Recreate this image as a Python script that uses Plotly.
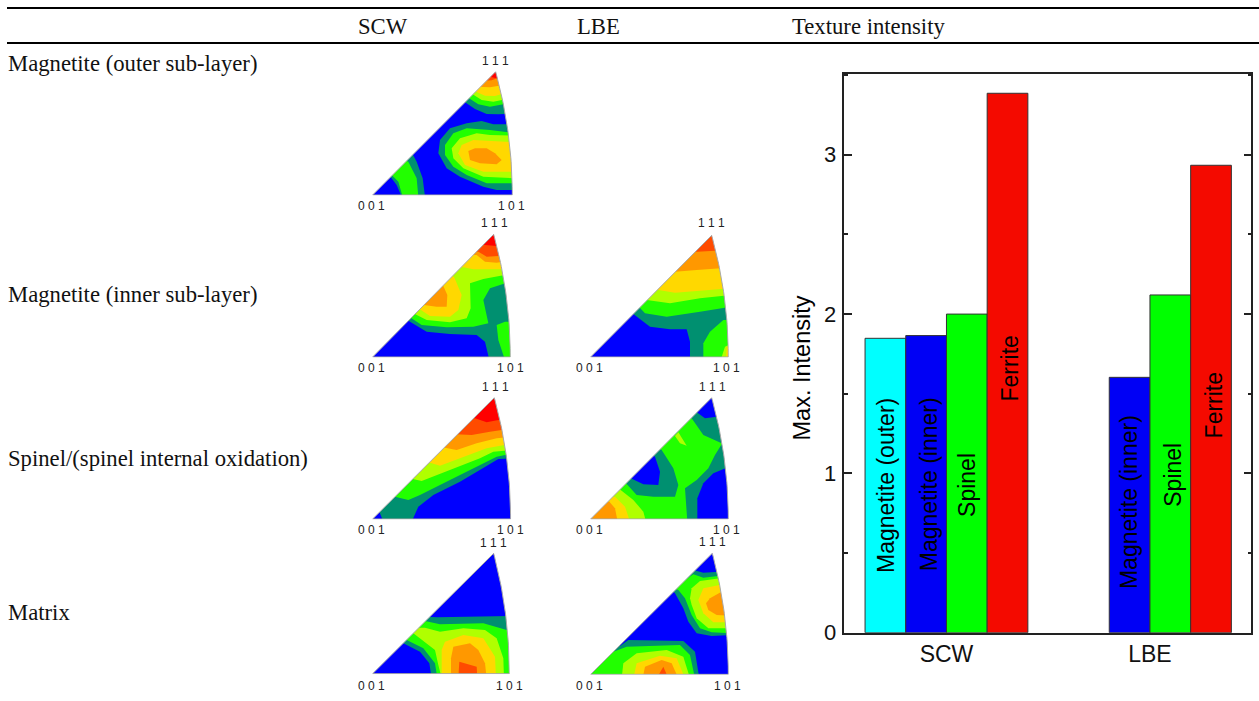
import math
import plotly.graph_objects as go

W, H = 1259, 701

# ---------- table text ----------
HEADERS = ["SCW", "LBE", "Texture intensity"]
ROW_LABELS = ["Magnetite (outer sub-layer)", "Magnetite (inner sub-layer)",
              "Spinel/(spinel internal oxidation)", "Matrix"]

# ---------- bar chart data ----------
ENVIRONMENTS = ["SCW", "LBE"]
PHASES = ["Magnetite (outer)", "Magnetite (inner)", "Spinel", "Ferrite"]
OUTER_VALUES = [1.848, None]
INNER_VALUES = [1.865, 1.603]
SPINEL_VALUES = [2.0, 2.12]
FERRITE_VALUES = [3.386, 2.934]
LABEL_START_SCW = [0.362, 0.374, 0.713, 1.435]
LABEL_START_LBE = [None, 0.259, 0.780, 1.207]

# ---------- inverse pole figures: contour level regions, digitised (level, vertices) ----------
LEVEL_NAMES = ["blue", "teal", "green", "yellowgreen", "yellow", "orange", "redorange", "red"]

SCW_OUTER = [
    (1, [(330,172),(345,172),(375,192),(410,207),(445,208),(500,205),(500,60),(437,60)]),
    (2, [(340,160),(357,160),(385,178),(420,185),(460,178),(500,178),(500,60),(437,60)]),
    (3, [(350,148),(368,148),(395,165),(430,170),(456,165),(500,165),(500,60),(437,60)]),
    (4, [(360,140),(378,140),(405,152),(435,153),(453,148),(500,148),(500,60),(437,60)]),
    (5, [(380,125),(392,125),(420,127),(447,122),(500,122),(500,60),(437,60)]),
    (6, [(395,108),(405,108),(425,106),(442,100),(500,100),(500,60),(437,60)]),
    (7, [(410,95),(420,95),(440,100),(500,100),(500,60),(437,60)]),
    (1, [(500,238),(430,238),(395,228),(350,235),(300,250),(270,285),(265,325),(290,370),(330,395),(400,425),(440,435),(500,435)]),
    (2, [(500,265),(420,255),(350,250),(310,265),(285,300),(285,330),(310,365),(350,390),(410,415),(500,415)]),
    (3, [(500,272),(420,270),(380,265),(330,280),(305,310),(310,340),(340,370),(400,395),(500,400)]),
    (4, [(500,292),(420,288),(370,285),(335,300),(325,325),(345,360),(400,380),(500,380)]),
    (5, [(355,318),(375,310),(410,310),(435,325),(455,345),(440,358),(390,355),(360,345)]),
    (1, [(122,396),(140,420),(155,455),(225,455),(218,400),(200,350),(188,328),(170,345)]),
    (2, [(125,390),(145,410),(158,455),(205,455),(200,400),(175,350),(165,345)]),
]
SCW_INNER = [
    (1, [(165,332),(175,332),(230,365),(300,372),(380,375),(405,395),(418,450),(490,450),(490,60),(431,60)]),
    (2, [(170,322),(180,322),(215,345),(290,352),(370,350),(415,340),(400,270),(420,235),(490,212),(490,60),(431,60)]),
    (2, [(440,345),(465,335),(490,335),(490,450),(465,450),(445,390)]),
    (3, [(180,310),(190,310),(230,330),(300,337),(350,325),(362,295),(360,220),(400,207),(490,190),(490,60),(431,60)]),
    (4, [(190,295),(205,295),(240,318),(300,320),(325,300),(335,255),(312,200),(300,195)]),
    (5, [(210,285),(222,285),(260,290),(290,290),(292,255),(280,228),(270,220)]),
    (4, [(330,172),(340,172),(370,178),(410,178),(490,178),(490,60),(431,60)]),
    (5, [(370,135),(380,135),(405,155),(440,158),(490,150),(490,60),(431,60)]),
    (6, [(375,125),(385,125),(410,140),(445,138),(490,130),(490,60),(431,60)]),
    (7, [(395,105),(405,105),(440,108),(490,100),(490,60),(431,60)]),
]
LBE_INNER = [
    (1, [(840,312),(850,312),(900,350),(960,358),(1010,358),(1020,395),(1020,450),(1145,450),(1145,60),(1085,60)]),
    (2, [(1060,450),(1060,400),(1080,365),(1120,330),(1145,330),(1145,450)]),
    (3, [(1112,450),(1125,410),(1145,400),(1145,450)]),
    (4, [(1128,450),(1130,410),(1145,405),(1145,450)]),
    (2, [(860,292),(868,292),(885,310),(950,320),(1050,305),(1145,290),(1145,60),(1085,60)]),
    (3, [(880,270),(890,270),(960,280),(1050,265),(1145,255),(1145,60),(1085,60)]),
    (4, [(915,240),(925,240),(975,248),(1115,237),(1145,232),(1145,60),(1085,60)]),
    (5, [(965,185),(975,185),(1040,180),(1145,172),(1145,60),(1085,60)]),
    (6, [(1032,125),(1042,125),(1095,122),(1145,120),(1145,60),(1085,60)]),
]
SCW_SPINEL = [
    (1, [(70,410),(88,410),(100,440),(185,440),(205,395),(250,360),(330,320),(400,280),(445,252),(490,250),(490,60),(433,60)]),
    (2, [(125,365),(135,365),(175,375),(210,360),(300,315),(380,275),(440,245),(490,235),(490,60),(433,60)]),
    (3, [(178,312),(188,312),(215,318),(300,285),(390,250),(430,230),(490,225),(490,60),(433,60)]),
    (4, [(230,263),(240,263),(270,272),(340,245),(410,220),(490,205),(490,60),(433,60)]),
    (5, [(275,218),(285,218),(320,225),(380,205),(440,190),(490,185),(490,60),(433,60)]),
    (6, [(318,178),(328,178),(365,180),(420,170),(490,160),(490,60),(433,60)]),
    (7, [(365,130),(375,130),(410,142),(445,135),(490,130),(490,60),(433,60)]),
]
LBE_SPINEL = [
    (3, [(812,345),(850,375),(880,410),(888,440),(700,440),(700,345)]),
    (4, [(795,365),(825,395),(840,440),(700,440),(700,365)]),
    (5, [(778,380),(795,400),(803,440),(700,440),(700,380)]),
    (1, [(1010,130),(1025,130),(1060,180),(1115,205),(1145,205),(1145,60),(1085,60)]),
    (0, [(1030,112),(1040,112),(1065,130),(1100,125),(1145,120),(1145,60),(1085,60)]),
    (1, [(1145,205),(1115,208),(1095,240),(1075,280),(1040,315),(1005,340),(1012,440),(1145,440)]),
    (0, [(1145,278),(1130,278),(1090,295),(1060,325),(1042,370),(1042,440),(1145,440)]),
    (1, [(815,325),(828,325),(860,360),(910,365),(975,365),(985,330),(970,280),(935,225),(920,215)]),
    (0, [(830,310),(842,310),(880,328),(925,330),(930,290),(915,245),(900,235)]),
    (3, [(975,183),(985,172),(1010,212),(990,205)]),
]
SCW_MATRIX = [
    (1, [(225,245),(262,247),(350,245),(490,243),(490,430),(245,430),(238,385),(210,350),(160,325),(150,320)]),
    (2, [(215,258),(225,258),(270,268),(400,265),(470,285),(490,285),(490,430),(262,430),(255,385),(220,340),(170,315),(160,315)]),
    (3, [(190,295),(215,315),(255,345),(265,390),(275,430),(462,430),(460,370),(440,310),(405,285),(340,280),(270,290),(225,278),(195,278)]),
    (4, [(275,345),(285,320),(340,300),(400,310),(435,365),(438,430),(275,430)]),
    (5, [(303,370),(310,335),(360,325),(385,345),(405,385),(410,430),(303,430)]),
    (6, [(328,380),(380,395),(382,430),(325,430)]),
]
LBE_MATRIX = [
    (1, [(795,333),(810,333),(835,315),(1000,318),(1035,350),(1048,430),(700,430),(700,333)]),
    (2, [(780,350),(790,350),(830,335),(990,330),(1020,360),(1035,430),(700,430),(700,350)]),
    (3, [(815,430),(820,385),(860,355),(950,345),(1000,365),(1020,430)]),
    (4, [(850,430),(860,385),(930,362),(980,370),(1005,430)]),
    (5, [(878,430),(885,395),(935,375),(965,385),(985,430)]),
    (6, [(920,430),(940,395),(955,430)]),
    (1, [(1030,105),(1060,113),(1145,108),(1145,300),(1085,303),(1040,295),(1015,260),(1000,220),(975,175),(960,160)]),
    (2, [(1030,118),(1060,128),(1145,118),(1145,295),(1085,292),(1050,280),(1025,240),(1005,190),(985,165),(970,160)]),
    (3, [(1020,190),(1025,160),(1050,138),(1145,125),(1145,280),(1075,280),(1040,250),(1025,210)]),
    (4, [(1045,195),(1060,160),(1120,148),(1145,145),(1145,262),(1090,262),(1060,235)]),
    (5, [(1068,205),(1080,190),(1112,172),(1145,170),(1145,242),(1100,240),(1075,225)]),
]

# ---------- styling ----------
LEVEL_COLORS = dict(zip(LEVEL_NAMES, ["#0000ff", "#009070", "#22ff00", "#b0ff00",
                                      "#ffd800", "#ff9800", "#ff4b00", "#ff0000"]))
BAR_COLORS = ["#00ffff", "#0000f5", "#00ff00", "#f40a00"]
SANS = "Liberation Sans, Arial, sans-serif"
SERIF = "Liberation Serif, Times New Roman, serif"
PAD = 6
LABEL_SHIFT_SCW = [0, 3, 0, 3]
LABEL_SHIFT_LBE = [0, 0, 3, 3]

PANELS = [
    (SCW_OUTER,  350, 45,  68, 487, 450, 437, 80, 0, (495.7, 60.7), (371.7, 206), (511.7, 206)),
    (SCW_INNER,  350, 210, 68, 481, 441, 431, 73, 0, (494, 223.3), (371.7, 368.3), (510, 368.3)),
    (LBE_INNER,  350, 210, 722, 1135, 441, 1085, 76, 0, (711.7, 223.3), (589, 368.3), (726.7, 368.3)),
    (SCW_SPINEL, 350, 375, 68, 482, 432, 433, 68, 0, (495, 387.3), (371.7, 530), (510, 530)),
    (LBE_SPINEL, 350, 375, 722, 1135, 432, 1085, 68, 2, (712.7, 386.7), (589, 530), (726.7, 530)),
    (SCW_MATRIX, 350, 535, 68, 478, 416, 431, 55, 0, (493.3, 543.3), (371.7, 685.7), (509.3, 685.7)),
    (LBE_MATRIX, 350, 535, 722, 1135, 418, 1087, 55, 0, (712.7, 541.7), (589, 685.7), (727.7, 685.7)),
]

fig = go.Figure()
annotations = []
shapes = []


def px_note(text, x, y, size, font, xanchor="left", color="#111", angle=0):
    annotations.append(dict(text=text, x=x / W, y=1 - y / H, xref="paper", yref="paper", textangle=angle,
                            xanchor=xanchor, yanchor="middle", showarrow=False,
                            font=dict(size=size, family=font, color=color)))


def region(xs, ys, color, axis):
    fig.add_trace(go.Scatter(x=xs, y=ys, mode="lines", fill="toself", fillcolor=color,
                             line=dict(width=0, color=color), hoverinfo="skip",
                             showlegend=False, xaxis="x" + axis, yaxis="y" + axis))


layout_axes = {}
for i, p in enumerate(PANELS):
    regions, cx, cy, x0, x1, y0, ax, ay, base, l111, l001, l101 = p
    axis = str(i + 2)
    left, right, bottom, top = x0 - PAD, x1 + PAD, y0 + PAD, ay - PAD
    dom_x = [(cx + left / 3) / W, (cx + right / 3) / W]
    dom_y = [1 - (cy + bottom / 3) / H, 1 - (cy + top / 3) / H]
    layout_axes["xaxis" + axis] = dict(domain=dom_x, range=[left, right], visible=False, fixedrange=True,
                                       anchor="y" + axis, automargin=False)
    layout_axes["yaxis" + axis] = dict(domain=dom_y, range=[bottom, top], visible=False, fixedrange=True,
                                       anchor="x" + axis, automargin=False)
    region([left, right, right, left], [bottom, bottom, top, top],
           LEVEL_COLORS[LEVEL_NAMES[base]], axis)
    for level, pts in regions:
        region([q[0] for q in pts], [q[1] for q in pts], LEVEL_COLORS[LEVEL_NAMES[level]], axis)
    # stereographic triangle boundary
    arc_x, arc_y = [], []
    for k in range(0, 31):
        th = math.radians(15 * (1 - k / 30))
        nx = (math.sqrt(2) * math.cos(th) - 1) / (math.sqrt(2) - 1)
        ny = math.sqrt(2) * math.sin(th) / (math.sqrt(2) - 1)
        arc_x.append(x1 + (ax - x1) * (1 - nx) / (1 - 0.8839))
        arc_y.append(y0 - (y0 - ay) * ny / 0.8839)
    mx = [left - 9, right + 9, right + 9, left - 9, left - 9, x0] + arc_x + [x1, x0, left - 9]
    my = [bottom + 9, bottom + 9, top - 9, top - 9, bottom + 9, y0] + arc_y + [y0, y0, bottom + 9]
    region(mx, my, "#ffffff", axis)
    fig.add_trace(go.Scatter(x=[x0] + arc_x + [x1, x0], y=[y0] + arc_y + [y0, y0], mode="lines",
                             line=dict(color="#a8a8a8", width=1), hoverinfo="skip",
                             showlegend=False, xaxis="x" + axis, yaxis="y" + axis))
    # hide the hairline left at the clip edge of the panel (paper reference is not clipped)
    shapes.append(dict(type="rect", xref="paper", yref="paper", x0=dom_x[0], x1=dom_x[1], y0=dom_y[0], y1=dom_y[1],
                       line=dict(color="#ffffff", width=3), layer="above"))
    px_note("1 1 1", l111[0], l111[1], 12, SANS, "center", "#222")
    px_note("0 0 1", l001[0], l001[1], 12, SANS, "center", "#222")
    px_note("1 0 1", l101[0], l101[1], 12, SANS, "center", "#222")

# ---------- bar chart ----------
for name, vals, col in zip(PHASES, [OUTER_VALUES, INNER_VALUES, SPINEL_VALUES, FERRITE_VALUES], BAR_COLORS):
    fig.add_trace(go.Bar(x=ENVIRONMENTS, y=vals, name=name, marker=dict(color=col, line=dict(color="#333", width=1)),
                         showlegend=False, hoverinfo="y"))

for g, (starts, shifts) in enumerate([(LABEL_START_SCW, LABEL_SHIFT_SCW), (LABEL_START_LBE, LABEL_SHIFT_LBE)]):
    for j, (name, st, sh) in enumerate(zip(PHASES, starts, shifts)):
        if st is None:
            continue
        annotations.append(dict(text=name, x=g + (j - 1.5) * 0.2, y=st, xref="x", yref="y", xshift=sh,
                                textangle=-90, yanchor="bottom", xanchor="center", showarrow=False,
                                font=dict(size=23, family=SANS, color="#000")))

# ---------- table text and rules ----------
px_note(HEADERS[0], 356, 27, 22.7, SERIF)
px_note(HEADERS[1], 575, 27, 22.7, SERIF)
px_note(HEADERS[2], 790, 27, 22.7, SERIF)
for label, y in zip(ROW_LABELS, [63, 294, 458, 612]):
    px_note(label, 6, y, 22.7, SERIF)
for y in [8, 43]:
    shapes.append(dict(type="line", xref="paper", yref="paper", x0=7 / W, x1=1, y0=1 - y / H, y1=1 - y / H,
                       line=dict(color="#000", width=2)))
px_note("Max. Intensity", 801, 368.5, 23.5, SANS, "center", "#000", -90)

fig.update_layout(
    width=W, height=H, autosize=False, margin=dict(l=0, r=0, t=0, b=0, autoexpand=False),
    paper_bgcolor="#ffffff", plot_bgcolor="#ffffff", barmode="group", bargap=0.2, bargroupgap=0,
    annotations=annotations, shapes=shapes,
    xaxis=dict(domain=[844.3 / W, 1251.3 / W], range=[-0.502, 1.498], type="category", showline=True, mirror=True,
               linecolor="#222", linewidth=1.5, ticks="", showgrid=False, fixedrange=True, automargin=False,
               tickfont=dict(size=23, family=SANS, color="#111"), anchor="y"),
    yaxis=dict(domain=[1 - 632.7 / H, 1 - 74 / H], range=[0, 3.507], dtick=1, showline=True, mirror="ticks",
               linecolor="#222", linewidth=1.5, ticks="inside", ticklen=8, tickwidth=1.5, tickcolor="#222",
               minor=dict(dtick=0.5, ticks="inside", ticklen=4, tickwidth=1.5, tickcolor="#222"),
               showgrid=False, zeroline=False, fixedrange=True, automargin=False, ticklabelstandoff=2,
               tickfont=dict(size=22, family=SANS, color="#111"), anchor="x"),
    **layout_axes,
)

fig.write_html("out.html", config={"displayModeBar": False},
               post_script="document.body.style.margin='0';document.body.style.overflow='hidden';")
